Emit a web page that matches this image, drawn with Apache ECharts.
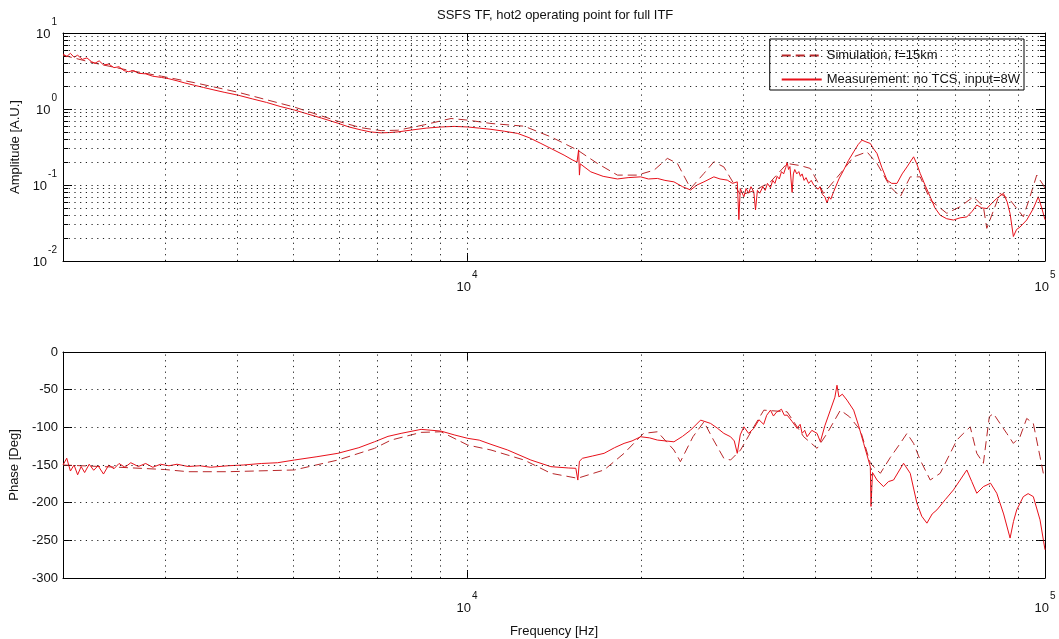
<!DOCTYPE html>
<html><head><meta charset="utf-8">
<script src="https://cdn.jsdelivr.net/npm/echarts@6/dist/echarts.min.js"></script>
<style>html,body{margin:0;padding:0;background:#fff}#c{width:1059px;height:639px}</style>
</head><body><div id="c"></div>
<script>
// ---------- text ----------
const chartTitle = 'SSFS TF, hot2 operating point for full ITF';
const simName = 'Simulation, f=15km';
const measName = 'Measurement: no TCS, input=8W';
const ampAxisName = 'Amplitude [A.U.]';
const phaseAxisName = 'Phase [Deg]';
const freqAxisName = 'Frequency [Hz]';

// ---------- axes ----------
const freqRange = [2000, 100000];
const ampRange = [0.01, 10];
const phaseRange = [-300, 0];
const phaseStep = 50;
const freqGrid = [3000,4000,5000,6000,7000,8000,9000,10000,20000,30000,40000,50000,60000,70000,80000,90000];
const ampGrid = [0.02,0.03,0.04,0.05,0.06,0.07,0.08,0.09,0.1,0.2,0.3,0.4,0.5,0.6,0.7,0.8,0.9,1,2,3,4,5,6,7,8,9];
const phaseGrid = [-250,-200,-150,-100,-50];

// ---------- data: [frequency Hz, value] ----------
const measAmp = [
[2000,5.3],[2030,4.9],[2060,5.4],[2090,4.8],[2120,5.1],[2160,4.5],[2200,4.7],[2240,4.2],[2272,4.0],[2310,4.3],
[2350,3.8],[2400,3.9],[2450,3.5],[2500,3.6],[2550,3.2],[2594,3.1],[2650,3.2],[2700,2.95],[2780,2.9],[2860,2.7],
[2961,2.6],[3050,2.5],[3150,2.35],[3250,2.2],[3377,2.05],[3500,1.92],[3650,1.78],[3800,1.66],[4018,1.52],[4250,1.36],
[4500,1.22],[4750,1.08],[5027,0.97],[5300,0.86],[5600,0.76],[5979,0.65],[6250,0.58],[6559,0.53],[6800,0.5],[7105,0.485],
[7350,0.49],[7593,0.5],[8004,0.528],[8500,0.56],[9018,0.58],[9500,0.59],[10028,0.58],[10500,0.56],[11002,0.54],[11600,0.51],
[12236,0.477],[12800,0.42],[13425,0.352],[14000,0.30],[14723,0.247],[15200,0.215],[15500,0.2],[15600,0.29],[15650,0.135],[15700,0.19],
[16374,0.149],[17200,0.13],[18205,0.12],[19000,0.125],[19974,0.128],[20600,0.12],[21352,0.122],[22000,0.115],[22803,0.11],[23600,0.095],
[24371,0.086],[25000,0.1],[25699,0.11],[26736,0.128],[27400,0.12],[28198,0.116],[28800,0.105],[29349,0.11],[29539,0.035],[29700,0.09],
[30130,0.07],[30400,0.09],[30700,0.078],[31000,0.095],[31350,0.081],[31560,0.047],[31800,0.085],[32100,0.078],[32500,0.095],[32800,0.085],
[33100,0.105],[33497,0.092],[33800,0.115],[34100,0.105],[34400,0.13],[34700,0.12],[35000,0.15],[35300,0.14],[35600,0.17],[35801,0.2],
[36000,0.16],[36200,0.175],[36517,0.08],[36700,0.14],[36900,0.16],[37200,0.14],[37500,0.15],[37749,0.13],[38000,0.14],[38300,0.115],
[38600,0.125],[39000,0.105],[39400,0.115],[39792,0.1],[40100,0.105],[40500,0.088],[40800,0.095],[41200,0.075],[41600,0.07],[41975,0.058],
[42300,0.07],[42600,0.065],[43094,0.082],[44000,0.12],[44837,0.157],[45700,0.21],[46660,0.273],[47500,0.34],[48245,0.389],[49000,0.37],
[49865,0.352],[50500,0.3],[51206,0.26],[52200,0.17],[53288,0.116],[54300,0.105],[55454,0.105],[56600,0.14],[57706,0.173],[59243,0.235],
[60000,0.19],[60828,0.142],[62000,0.1],[63299,0.07],[64500,0.05],[65871,0.04],[67600,0.036],[69435,0.0346],[71300,0.037],[73234,0.038],
[74800,0.045],[76208,0.0545],[77700,0.05],[79303,0.049],[81000,0.058],[82523,0.0667],[84722,0.0776],[86000,0.06],[87015,0.042],[88163,0.021],
[89300,0.026],[90530,0.028],[92975,0.0346],[95451,0.049],[97362,0.07],[98700,0.05],[100000,0.035]
];
const simAmp = [
[2000,5.1],[2272,4.0],[2594,3.24],[2961,2.70],[3377,2.22],[4018,1.66],[5027,1.06],[5979,0.69],[6559,0.567],[7105,0.519],
[7593,0.526],[8004,0.57],[8439,0.62],[9384,0.75],[10028,0.714],[11002,0.645],[12556,0.594],[13968,0.43],[15531,0.288],[16815,0.192],
[18205,0.135],[19718,0.135],[21071,0.157],[22217,0.224],[23121,0.192],[24371,0.09],[25699,0.142],[26736,0.202],[27819,0.173],[29736,0.0736],
[31500,0.085],[33497,0.11],[35801,0.192],[37749,0.18],[39270,0.165],[41407,0.0776],[44259,0.142],[46660,0.235],[49204,0.273],[51206,0.192],
[53996,0.0946],[56169,0.07],[58457,0.128],[60828,0.128],[63299,0.0634],[67640,0.0424],[71302,0.0518],[75199,0.07],[78233,0.0518],[79303,0.0269],
[83580,0.0776],[87015,0.0634],[91727,0.0382],[94202,0.07],[96761,0.135],[99335,0.0998],[100000,0.09]
];
const measPhase = [
[2000,-150],[2030,-141],[2060,-158],[2090,-150],[2120,-163],[2150,-152],[2180,-160],[2220,-149],[2260,-157],[2300,-151],
[2350,-162],[2400,-150],[2450,-155],[2500,-148],[2560,-153],[2620,-147],[2700,-152],[2780,-148],[2860,-153],[2950,-149],
[3050,-151],[3150,-149],[3293,-152],[3450,-151],[3600,-153],[3861,-151],[4100,-150],[4407,-148],[4700,-147],[5027,-143.4],
[5500,-139],[5979,-134.5],[6500,-127],[6917,-119.2],[7300,-112],[7691,-108],[8328,-102.7],[9018,-105],[9500,-110],[10028,-114.6],
[10500,-117],[11002,-122.6],[11757,-130.1],[12896,-143.4],[13967,-152.2],[15000,-154],[15427,-154.4],[15550,-170],[15650,-145],[15842,-141.1],
[16500,-138],[17266,-134.5],[18000,-127],[18697,-121.3],[19300,-118],[19974,-112.5],[20700,-114],[21352,-116.9],[22803,-119.2],[23600,-112],
[24371,-103.7],[25360,-90.4],[26386,-94.8],[27100,-101],[27819,-108],[28576,-112.5],[29000,-118],[29349,-134.5],[29700,-110],[30130,-99.3],
[30700,-108],[31350,-101.4],[32000,-90],[32600,-96],[33000,-84],[33497,-77.2],[33900,-85],[34300,-80],[35000,-76],[35400,-84],
[35801,-83.8],[36500,-92],[37251,-101.4],[37700,-96],[38000,-108],[38400,-104],[38762,-112.5],[39500,-104],[40331,-108],[40862,-119.2],
[41600,-98],[42522,-77.2],[43300,-60],[43664,-44.1],[44000,-59.6],[44600,-56],[45439,-63.9],[46660,-77.2],[47600,-98],[48556,-121.3],
[49865,-152.2],[50000,-205],[50300,-160],[51206,-169.9],[52556,-178.7],[53600,-172],[54702,-169.9],[56924,-147.7],[58457,-161],[60034,-200.7],
[61200,-218],[62474,-227.2],[63800,-215],[65013,-209.6],[67200,-196],[69435,-183.1],[71300,-170],[73234,-156.6],[74700,-172],[76208,-187.5],
[78233,-178.7],[80500,-174.2],[82523,-187.5],[84800,-215],[87015,-247],[88200,-225],[89337,-209.6],[91727,-192],[93500,-188],[95451,-192],
[98039,-222.8],[100000,-262.5]
];
const simPhase = [
[2000,-150],[2500,-153],[3000,-156],[3293,-158.9],[3861,-158.9],[5027,-156.6],[5979,-143.4],[6917,-127.9],[7391,-116.9],[8328,-106.7],
[9018,-105.9],[10028,-123.5],[11002,-130.1],[12556,-143.4],[13968,-161],[15531,-167.6],[17266,-156.6],[18697,-134.5],[20200,-108],[21352,-105.9],
[22803,-130.1],[23400,-145.6],[24600,-112.5],[25700,-92.7],[26700,-116.9],[27819,-141.1],[28576,-143.4],[29736,-130.1],[31350,-99.3],[32624,-77.2],
[35801,-79.4],[38240,-112.5],[40331,-127.9],[41975,-108],[44259,-77.2],[45900,-86],[47923,-103.7],[49865,-147.7],[51900,-161],[54000,-140],
[56169,-121.3],[57706,-108],[59243,-121.3],[60828,-143.4],[63299,-169.9],[65871,-161],[70387,-116.9],[72250,-108],[74232,-99.3],[76208,-134.5],
[78233,-147.7],[80100,-86],[81408,-81.6],[83580,-94.8],[85868,-108],[88163,-121.3],[90530,-112.5],[92975,-88.2],[95451,-94.8],[98039,-139],
[99335,-161],[100000,-165]
];

// ---------- styles ----------
const FONT = '"Liberation Sans", Arial, Helvetica, sans-serif';
const INK = '#111';
const MEAS_COLOR = '#e8101a';
const SIM_COLOR = '#b8282a';
const GRID_LINE = { color: '#222', width: 1, type: [1.2, 4.5] };

// "10" with exponent raised above-right (two-line rich text, equal line widths)
const supRich = {
  s1: { fontSize: 10, fontFamily: FONT, color: INK, lineHeight: 10, padding: [0, 0, 0, 15.5] },
  s2: { fontSize: 10, fontFamily: FONT, color: INK, lineHeight: 10, padding: [0, 0, 0, 15.5] },
  b1: { fontSize: 13, fontFamily: FONT, color: INK, lineHeight: 14, padding: [0, 6.6, 0, 0] },
  b2: { fontSize: 13, fontFamily: FONT, color: INK, lineHeight: 14, padding: [0, 9.9, 0, 0] }
};
function powLabel(v) {
  const e = Math.log10(v), r = Math.round(e);
  if (Math.abs(e - r) > 1e-6) return '';
  const ex = String(r), k = ex.length > 1 ? 2 : 1;
  return '{s' + k + '|' + ex + '}\n{b' + k + '|10}';
}

function logX(grid, bottom, margin) {
  return {
    type: 'log', logBase: 10, gridIndex: grid, min: freqRange[0], max: freqRange[1],
    position: bottom ? 'bottom' : 'top',
    axisLine: { show: true, onZero: false, lineStyle: { color: '#000', width: 1 } },
    axisTick: { show: true, inside: true, length: 8, lineStyle: { color: '#000' } },
    axisLabel: bottom ? { show: true, margin: margin, formatter: powLabel, rich: supRich, showMinLabel: true, showMaxLabel: true, hideOverlap: false } : { show: false },
    splitLine: { show: false }
  };
}
function ampY(left) {
  return {
    type: 'log', logBase: 10, gridIndex: 0, min: ampRange[0], max: ampRange[1],
    position: left ? 'left' : 'right',
    axisLine: { show: true, lineStyle: { color: '#000', width: 1 } },
    axisTick: { show: true, inside: true, length: 9, lineStyle: { color: '#000' } },
    minorTick: { show: true, splitNumber: 9, length: 5, lineStyle: { color: '#000' } },
    axisLabel: left ? { show: true, margin: 6, formatter: powLabel, rich: supRich, padding: [0, 0, 8, 0] } : { show: false },
    splitLine: { show: false },
    name: left ? ampAxisName : '', nameLocation: 'middle', nameGap: 35, nameRotate: 90,
    nameTextStyle: { fontSize: 13, fontFamily: FONT, color: INK }
  };
}
function phaseY(left) {
  return {
    type: 'value', gridIndex: 1, min: phaseRange[0], max: phaseRange[1], interval: phaseStep,
    position: left ? 'left' : 'right',
    axisLine: { show: true, lineStyle: { color: '#000', width: 1 } },
    axisTick: { show: true, inside: true, length: 9, lineStyle: { color: '#000' } },
    axisLabel: left ? { show: true, margin: 5, fontSize: 13, fontFamily: FONT, color: INK } : { show: false },
    splitLine: { show: false },
    name: left ? phaseAxisName : '', nameLocation: 'middle', nameGap: 37, nameRotate: 90,
    nameTextStyle: { fontSize: 13, fontFamily: FONT, color: INK }
  };
}

const xAxes = [logX(0, true, 9), logX(0, false), logX(1, true, 13), logX(1, false)];
xAxes[2].name = freqAxisName;
xAxes[2].nameLocation = 'middle';
xAxes[2].nameGap = 47;
xAxes[2].nameTextStyle = { fontSize: 13, fontFamily: FONT, color: INK };

function gridSeries(xi, yi, yVals) {
  return {
    type: 'line', xAxisIndex: xi, yAxisIndex: yi, data: [], z: 1, silent: true,
    markLine: {
      silent: true, symbol: 'none', animation: false,
      label: { show: false }, emphasis: { disabled: true },
      lineStyle: GRID_LINE,
      data: freqGrid.map(v => ({ xAxis: v })).concat(yVals.map(v => ({ yAxis: v })))
    }
  };
}
function curve(name, data, xi, yi, color, dashed) {
  return {
    name: name, type: 'line', xAxisIndex: xi, yAxisIndex: yi, data: data,
    symbol: 'none', showSymbol: false, z: dashed ? 3 : 4, silent: true,
    lineStyle: { color: color, width: 1, type: dashed ? [9, 5] : 'solid' },
    itemStyle: { color: color }
  };
}

const chart = echarts.init(document.getElementById('c'), null, { renderer: 'canvas' });
chart.setOption({
  animation: false,
  backgroundColor: '#fff',
  textStyle: { fontFamily: FONT },
  title: { text: chartTitle, left: 432, top: 4, textStyle: { fontSize: 13, fontWeight: 'normal', fontFamily: FONT, color: INK } },
  legend: {
    data: [simName, measName], orient: 'vertical', right: 35, top: 39,
    backgroundColor: '#fff', borderColor: '#000', borderWidth: 1, borderRadius: 0,
    padding: [10, 4, 4, 11], itemGap: 11, itemWidth: 40, itemHeight: 14,
    itemStyle: { opacity: 0, color: 'rgba(0,0,0,0)', borderWidth: 0 },
    textStyle: { fontSize: 13, fontFamily: FONT, color: INK }, selectedMode: false
  },
  grid: [
    { left: 63, top: 33, width: 982, height: 228, containLabel: false },
    { left: 63, top: 352, width: 982, height: 226, containLabel: false }
  ],
  xAxis: xAxes,
  yAxis: [ampY(true), ampY(false), phaseY(true), phaseY(false)],
  series: [
    gridSeries(0, 0, ampGrid),
    gridSeries(2, 2, phaseGrid),
    curve(simName, simAmp, 0, 0, SIM_COLOR, true),
    curve(measName, measAmp, 0, 0, MEAS_COLOR, false),
    curve(simName, simPhase, 2, 2, SIM_COLOR, true),
    curve(measName, measPhase, 2, 2, MEAS_COLOR, false)
  ]
});
</script></body></html>
